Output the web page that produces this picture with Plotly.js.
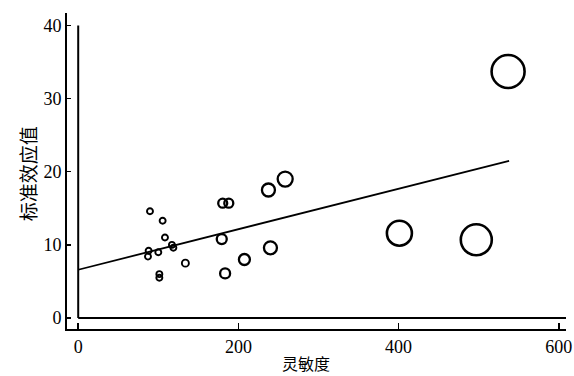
<!DOCTYPE html>
<html>
<head>
<meta charset="utf-8">
<script src="https://cdn.plot.ly/plotly-3.0.1.min.js"></script>
<style>html,body{margin:0;padding:0;background:#fff;}#chart{width:574px;height:376px;}</style>
</head>
<body>
<div id="chart"></div>
<script>
// Data
const sensitivity = [89.6, 105.4, 108.3, 87.9, 87.1, 100, 117, 118.8, 133.8, 101.3, 101.3, 180.4, 188, 237.5, 258.4, 179.2, 240, 207.5, 183.4, 536.7, 401, 497];
const effect      = [14.6, 13.3, 11.0, 9.2, 8.4, 9.0, 10.0, 9.6, 7.5, 6.0, 5.5, 15.7, 15.7, 17.5, 19.0, 10.8, 9.6, 8.0, 6.1, 33.7, 11.6, 10.7];
const weight      = [8, 8, 8, 8, 8, 8, 8, 8, 9, 8, 8, 11, 11, 15, 17, 12, 15, 13, 12, 35, 27, 33];
const fitX = [0, 538];
const fitY = [6.6, 21.5];
const xTicks = [0, 200, 400, 600];
const yTicks = [0, 10, 20, 30, 40];

const serif = 'Liberation Serif, Times New Roman, serif';

const traces = [
  {
    x: fitX, y: fitY, mode: 'lines', type: 'scatter',
    line: {color: '#000', width: 1.8}, hoverinfo: 'skip', showlegend: false
  },
  {
    x: sensitivity, y: effect, mode: 'markers', type: 'scatter',
    marker: {
      symbol: 'circle-open',
      size: weight.map(w => w - 2),
      color: '#000',
      opacity: 1,
      line: {color: '#000', width: weight.map(w => w > 20 ? 2.6 : (w > 10 ? 2.3 : 1.9))}
    },
    showlegend: false
  }
];

const layout = {
  width: 574, height: 376,
  margin: {l: 67, r: 8, t: 13, b: 47},
  paper_bgcolor: '#fff', plot_bgcolor: '#fff',
  showlegend: false,
  xaxis: {
    range: [-14, 609], tickvals: xTicks, ticktext: xTicks.map(String),
    showgrid: false, zeroline: false, showline: true, linecolor: '#000', linewidth: 2,
    ticks: 'inside', ticklen: 6, tickwidth: 1.5, tickcolor: '#000',
    tickfont: {family: serif, size: 18, color: '#000'}
  },
  yaxis: {
    range: [-1.5, 41.7], tickvals: yTicks, ticktext: yTicks.map(String),
    showgrid: false, zeroline: false, showline: true, linecolor: '#000', linewidth: 2,
    ticks: 'inside', ticklen: 4, tickwidth: 1.5, tickcolor: '#000',
    tickfont: {family: serif, size: 18, color: '#000'}
  },
  shapes: [
    {type: 'line', xref: 'x', yref: 'y', x0: 0, x1: 0, y0: 0, y1: 40, line: {color: '#000', width: 2}},
    {type: 'line', xref: 'x', yref: 'y', x0: 0, x1: 609, y0: 0, y1: 0, line: {color: '#000', width: 2}}
  ],
  annotations: [
    {text: '灵敏度', xref: 'paper', yref: 'paper', x: 0.478, y: 0, yshift: -34, xanchor: 'center', yanchor: 'middle',
     showarrow: false, font: {family: 'Noto Sans CJK SC', size: 16, color: '#000'}},
    {text: '标准效应值', xref: 'paper', yref: 'paper', x: 0, xshift: -40, y: 0.49, xanchor: 'center', yanchor: 'middle',
     textangle: -90, showarrow: false, font: {family: 'Noto Sans CJK SC', size: 19, color: '#000'}}
  ]
};

Plotly.newPlot('chart', traces, layout, {displayModeBar: false, staticPlot: true});
</script>
</body>
</html>
